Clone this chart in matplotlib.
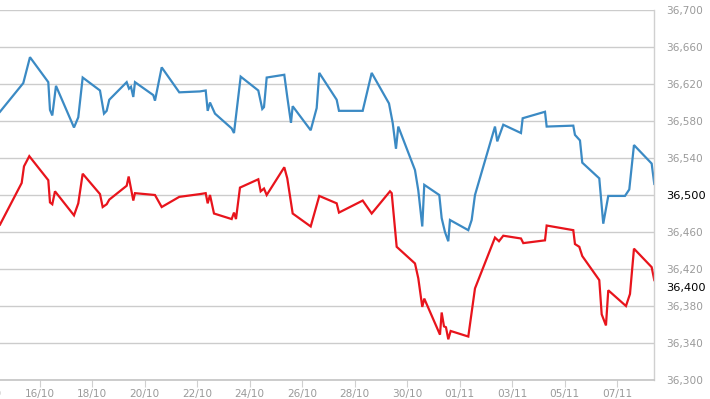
import matplotlib
matplotlib.use("Agg")
from matplotlib import pyplot as plt
from matplotlib import transforms
from matplotlib.ticker import FuncFormatter

# time in days since 14/10 00:00
blue_t = [0.488, 1.375, 1.630, 2.328, 2.392, 2.480, 2.621, 3.307, 3.470, 3.638,
          4.297, 4.450, 4.552, 4.651, 5.314, 5.402, 5.478, 5.566, 5.630, 6.328,
          6.392, 6.648, 7.318, 8.107, 8.324, 8.400, 8.488, 8.678, 9.314, 9.402,
          9.657, 10.328, 10.480, 10.545, 10.648, 11.318, 11.432, 11.573, 11.638, 12.324,
          12.552, 12.651, 13.314, 13.402, 14.305, 14.648, 15.307, 15.448, 15.573, 15.661,
          16.297, 16.423, 16.575, 16.651, 17.223, 17.314, 17.440, 17.566, 17.630, 18.328,
          18.457, 18.583, 19.345, 19.432, 19.661, 20.335, 20.400, 21.250, 21.314, 22.328,
          22.392, 22.583, 22.670, 23.318, 23.470, 23.661, 24.297, 24.461, 24.640, 25.314,
          25.413]
blue_v = [36590, 36621, 36649, 36622, 36592, 36586, 36618, 36573, 36584, 36627,
          36613, 36588, 36591, 36603, 36622, 36615, 36617, 36606, 36622, 36608,
          36602, 36638, 36611, 36612, 36613, 36591, 36600, 36588, 36572, 36567,
          36628, 36613, 36593, 36595, 36627, 36630, 36606, 36578, 36596, 36570,
          36594, 36632, 36603, 36591, 36591, 36632, 36599, 36578, 36550, 36574,
          36527, 36505, 36466, 36511, 36500, 36475, 36460, 36450, 36473, 36462,
          36473, 36500, 36574, 36558, 36576, 36567, 36583, 36590, 36574, 36575,
          36565, 36559, 36535, 36518, 36469, 36499, 36499, 36506, 36554, 36534,
          36512]

red_t = [0.488, 1.314, 1.402, 1.604, 2.328, 2.392, 2.480, 2.583, 3.307, 3.470,
         3.638, 4.297, 4.400, 4.552, 4.651, 5.314, 5.390, 5.566, 5.630, 6.392,
         6.648, 7.318, 8.107, 8.324, 8.400, 8.488, 8.640, 9.314, 9.402, 9.478,
         9.630, 10.328, 10.419, 10.545, 10.648, 11.318, 11.432, 11.638, 12.324, 12.651,
         13.314, 13.402, 14.305, 14.648, 15.345, 15.410, 15.600, 16.297, 16.423, 16.575,
         16.651, 17.250, 17.314, 17.402, 17.478, 17.566, 17.657, 18.328, 18.583, 19.345,
         19.497, 19.661, 20.335, 20.423, 21.250, 21.314, 22.328, 22.392, 22.557, 22.670,
         23.318, 23.410, 23.573, 23.661, 24.335, 24.488, 24.640, 25.314, 25.413]
red_v = [36468, 36513, 36531, 36542, 36516, 36492, 36490, 36504, 36478, 36491,
         36523, 36501, 36487, 36490, 36495, 36510, 36520, 36494, 36502, 36500,
         36487, 36498, 36501, 36502, 36491, 36500, 36480, 36474, 36481, 36474,
         36508, 36517, 36504, 36507, 36500, 36530, 36518, 36480, 36466, 36499,
         36491, 36481, 36494, 36480, 36504, 36502, 36444, 36426, 36410, 36379,
         36388, 36349, 36373, 36358, 36357, 36344, 36353, 36347, 36399, 36454,
         36450, 36456, 36453, 36448, 36451, 36467, 36462, 36447, 36444, 36434,
         36408, 36371, 36359, 36397, 36380, 36393, 36442, 36422, 36408]

date_ticks = list(range(2, 26, 2))
date_labels = ['16/10', '18/10', '20/10', '22/10', '24/10', '26/10',
               '28/10', '30/10', '01/11', '03/11', '05/11', '07/11']
first_label = '14/10'   # sits just off the left edge, only its tail shows
value_ticks = list(range(36300, 36701, 40))
last_blue_label = 36500
last_red_label = 36400

fig = plt.figure(figsize=(7.1, 3.99), dpi=100)
ax = fig.add_axes([0.0, 0.0476, 0.9215, 0.9273])

ax.plot(blue_t, blue_v, color='#3b8ac4', lw=1.6, solid_joinstyle='miter')
ax.plot(red_t, red_v, color='#e8141c', lw=1.6, solid_joinstyle='miter')

ax.set_xticks(date_ticks)
ax.set_xticklabels(date_labels)
ax.set_yticks(value_ticks)
ax.set_xlim(0.488, 25.413)
ax.set_ylim(36300, 36700)

ax.yaxis.tick_right()
ax.yaxis.set_major_formatter(FuncFormatter(lambda v, p: '{:,.0f}'.format(v)))
ax.tick_params(axis='y', length=0, pad=8.5, labelsize=7.6, labelcolor='#9a9a9a')
for lab in ax.get_yticklabels():
    lab.set_horizontalalignment('left')
    if lab.get_text() == '{:,}'.format(last_blue_label):
        lab.set_color('black')
        lab.set_fontsize(8.2)

shift = transforms.ScaledTranslation(8.5 / 72, 0, fig.dpi_scale_trans)
ax.text(1.0, last_red_label, '{:,}'.format(last_red_label),
        transform=ax.get_yaxis_transform() + shift,
        color='black', fontsize=8.2, ha='left', va='center')

ax.tick_params(axis='x', length=5, width=0.8, color='#d0d0d0', pad=1.5,
               labelsize=7.6, labelcolor='#9a9a9a')
drop = transforms.ScaledTranslation(0, -(5 + 1.5) / 72, fig.dpi_scale_trans)
ax.text(0, 0, first_label, transform=ax.get_xaxis_transform() + drop,
        color='#9a9a9a', fontsize=7.6, ha='center', va='top', clip_on=False)

ax.grid(axis='y', color='#cccccc', lw=1.0)
ax.set_axisbelow(True)
for side in ['top', 'left']:
    ax.spines[side].set_visible(False)
ax.spines['right'].set_color('#d0d0d0')
ax.spines['bottom'].set_color('#c4c4c4')
ax.spines['right'].set_linewidth(1.0)
ax.spines['bottom'].set_linewidth(1.2)

fig.savefig('out.png', dpi=100)
